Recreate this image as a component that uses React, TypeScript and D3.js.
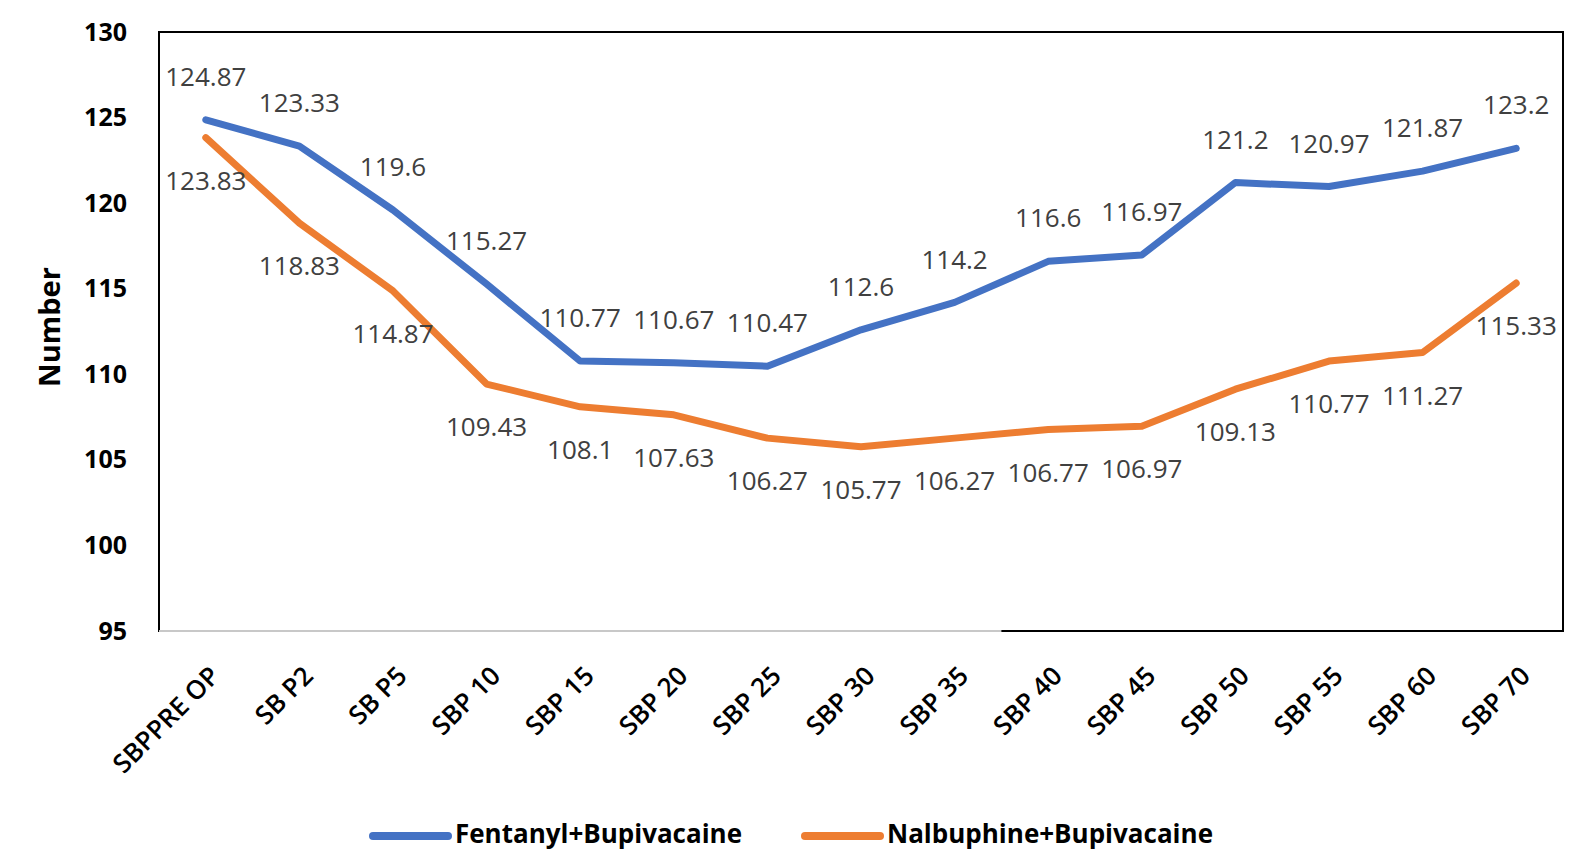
import React, { useEffect, useRef } from "react";
import * as d3 from "d3";

const categories = [
  "SBPPRE OP",
  "SB P2",
  "SB P5",
  "SBP 10",
  "SBP 15",
  "SBP 20",
  "SBP 25",
  "SBP 30",
  "SBP 35",
  "SBP 40",
  "SBP 45",
  "SBP 50",
  "SBP 55",
  "SBP 60",
  "SBP 70",
];

const fentanylValues = [
  124.87, 123.33, 119.6, 115.27, 110.77, 110.67, 110.47, 112.6, 114.2, 116.6,
  116.97, 121.2, 120.97, 121.87, 123.2,
];

const nalbuphineValues = [
  123.83, 118.83, 114.87, 109.43, 108.1, 107.63, 106.27, 105.77, 106.27, 106.77,
  106.97, 109.13, 110.77, 111.27, 115.33,
];

const yTicks = [95, 100, 105, 110, 115, 120, 125, 130];

const seriesNames = ["Fentanyl+Bupivacaine", "Nalbuphine+Bupivacaine"];

export default function App() {
  const svgRef = useRef<SVGSVGElement>(null);
  const width = 1583;
  const height = 851;

  useEffect(() => {
    const svg = d3.select(svgRef.current);
    svg.selectAll("*").remove();

    const margin = { top: 32, left: 159 };
    const plotRight = 1563;
    const plotBottom = 631;
    const chartWidth = plotRight - margin.left;
    const chartHeight = plotBottom - margin.top;

    const xScale = d3
      .scaleBand<string>()
      .domain(categories)
      .range([0, chartWidth])
      .padding(0);

    const cx = (c: string) => xScale(c)! + xScale.bandwidth() / 2;

    const yScale = d3.scaleLinear().domain([95, 130]).range([chartHeight, 0]);

    svg.attr("width", width).attr("height", height);

    svg
      .append("rect")
      .attr("width", width)
      .attr("height", height)
      .attr("fill", "white");

    const g = svg
      .append("g")
      .attr("transform", `translate(${margin.left},${margin.top})`);

    // marco del área de trazado
    g.append("rect")
      .attr("x", 0)
      .attr("y", 0)
      .attr("width", chartWidth)
      .attr("height", chartHeight)
      .attr("fill", "none")
      .attr("stroke", "#000")
      .attr("stroke-width", 2);

    g.append("line")
      .attr("x1", 0)
      .attr("x2", chartWidth * 0.6)
      .attr("y1", chartHeight)
      .attr("y2", chartHeight)
      .attr("stroke", "#c8c8c8")
      .attr("stroke-width", 2);

    // eje Y
    const yAxis = d3
      .axisLeft(yScale)
      .tickValues(yTicks)
      .tickSize(0)
      .tickPadding(32);
    const yAxisG = g.append("g").call(yAxis);
    yAxisG.select(".domain").remove();
    yAxisG
      .selectAll("text")
      .attr("font-family", "'Open Sans', sans-serif")
      .attr("font-size", "25px")
      .attr("font-weight", "bold")
      .attr("fill", "#000");

    // etiquetas del eje X
    g.selectAll(".x-label")
      .data(categories)
      .enter()
      .append("text")
      .attr("class", "x-label")
      .attr(
        "transform",
        (d) => `translate(${cx(d) + 9},${chartHeight + 40}) rotate(-45)`
      )
      .attr("text-anchor", "end")
      .attr("dy", "0.35em")
      .attr("font-family", "'Open Sans', sans-serif")
      .attr("font-size", "26px")
      .attr("font-weight", 600)
      .attr("fill", "#000")
      .text((d) => d);

    // título del eje Y
    g.append("text")
      .attr("text-anchor", "middle")
      .attr("transform", `rotate(-90)`)
      .attr("x", -(327 - margin.top))
      .attr("y", -margin.left + 60)
      .attr("font-family", "'Open Sans', sans-serif")
      .attr("font-size", "29px")
      .attr("font-weight", "bold")
      .attr("fill", "#000")
      .text("Number");

    const series = [
      { name: seriesNames[0], values: fentanylValues, color: "#4472C4", dy: -43 },
      { name: seriesNames[1], values: nalbuphineValues, color: "#ED7D31", dy: 43 },
    ];

    const line = d3
      .line<number>()
      .x((_, i) => cx(categories[i]))
      .y((d) => yScale(d));

    series.forEach((s) => {
      g.append("path")
        .datum(s.values)
        .attr("fill", "none")
        .attr("stroke", s.color)
        .attr("stroke-width", 7)
        .attr("stroke-linejoin", "round")
        .attr("stroke-linecap", "round")
        .attr("d", line);
    });

    series.forEach((s) => {
      g.selectAll(null)
        .data(s.values)
        .enter()
        .append("text")
        .attr("x", (_, i) => cx(categories[i]))
        .attr("y", (d) => yScale(d) + s.dy)
        .attr("dy", "0.35em")
        .attr("text-anchor", "middle")
        .attr("font-family", "'Open Sans', sans-serif")
        .attr("font-size", "26px")
        .attr("fill", "#404040")
        .text((d) => String(d));
    });

    // leyenda
    const legendItems = [
      { name: seriesNames[0], color: "#4472C4", x: 373, textLen: 287 },
      { name: seriesNames[1], color: "#ED7D31", x: 805, textLen: 326 },
    ];
    const legend = svg.append("g").attr("transform", `translate(0, 836)`);
    legendItems.forEach((item) => {
      legend
        .append("line")
        .attr("x1", item.x)
        .attr("x2", item.x + 75)
        .attr("y1", 0)
        .attr("y2", 0)
        .attr("stroke", item.color)
        .attr("stroke-width", 8)
        .attr("stroke-linecap", "round");
      legend
        .append("text")
        .attr("x", item.x + 82)
        .attr("y", 7)
        .attr("font-family", "'Liberation Sans Narrow', 'Open Sans', sans-serif")
        .attr("font-size", "27px")
        .attr("font-weight", "bold")
        .attr("fill", "#000")
        .attr("textLength", item.textLen)
        .attr("lengthAdjust", "spacingAndGlyphs")
        .text(item.name);
    });
  }, []);

  return (
    <div style={{ position: "absolute", left: 0, top: 0 }}>
      <svg ref={svgRef} style={{ display: "block" }} />
    </div>
  );
}
